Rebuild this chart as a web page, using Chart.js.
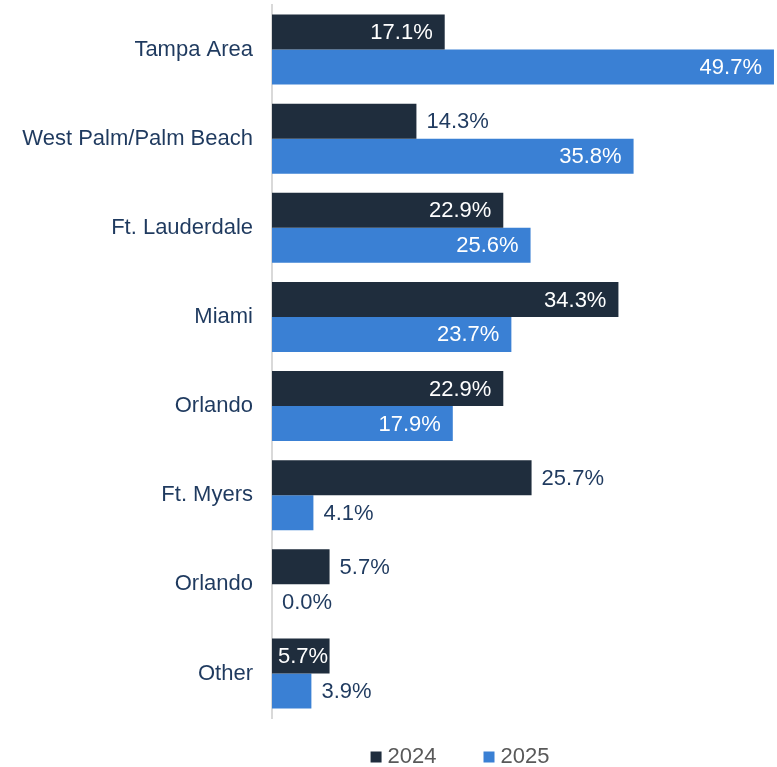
<!DOCTYPE html>
<html>
<head>
<meta charset="utf-8">
<script src="https://cdn.jsdelivr.net/npm/chart.js@4.4.1/dist/chart.umd.min.js"></script>
<style>
  html, body { margin: 0; padding: 0; background: #fff; }
  #wrap { width: 777px; height: 767px; }
</style>
</head>
<body>
<div id="wrap"><canvas id="chart" width="777" height="767"></canvas></div>
<script>
const categories = ['Tampa Area', 'West Palm/Palm Beach', 'Ft. Lauderdale', 'Miami', 'Orlando', 'Ft. Myers', 'Orlando', 'Other'];
const values2024 = [17.1, 14.3, 22.9, 34.3, 22.9, 25.7, 5.7, 5.7];
const values2025 = [49.7, 35.8, 25.6, 23.7, 17.9, 4.1, 0.0, 3.9];
const seriesNames = ['2024', '2025'];

// which value labels sit inside the bar end (white) vs. outside (navy)
const inside2024 = [true, false, true, true, true, false, false, true];
const inside2025 = [true, true, true, true, true, false, false, false];
const insideFlags = [inside2024, inside2025];

const FONT = '"Liberation Sans", Arial, sans-serif';
const navyText = '#1f3a5f';

Chart.defaults.font.family = FONT;

const barLabels = {
  id: 'barLabels',
  afterDatasetsDraw(chart) {
    const ctx = chart.ctx;
    ctx.save();
    ctx.font = '22px ' + FONT;
    ctx.textBaseline = 'middle';
    ctx.textAlign = 'left';
    chart.data.datasets.forEach((ds, di) => {
      const meta = chart.getDatasetMeta(di);
      meta.data.forEach((bar, i) => {
        const text = ds.data[i].toFixed(1) + '%';
        const w = ctx.measureText(text).width;
        let x;
        if (insideFlags[di][i]) {
          ctx.fillStyle = '#ffffff';
          x = Math.max(bar.x - 12 - w, bar.base + 6);
        } else {
          ctx.fillStyle = navyText;
          x = bar.x + 10;
        }
        ctx.fillText(text, x, bar.y + 1);
      });
    });
    ctx.restore();
  }
};

const bottomLegend = {
  id: 'bottomLegend',
  afterDraw(chart) {
    const ctx = chart.ctx;
    ctx.save();
    ctx.font = '22px ' + FONT;
    ctx.textBaseline = 'middle';
    ctx.textAlign = 'left';
    const box = 11, gapText = 6, gapItem = 47;
    const items = chart.data.datasets.map(ds => ({
      label: ds.label, color: ds.backgroundColor, w: ctx.measureText(ds.label).width
    }));
    const total = items.reduce((s, it) => s + box + gapText + it.w, 0) + gapItem * (items.length - 1);
    let x = 460 - total / 2;
    const y = 757;
    items.forEach(it => {
      ctx.fillStyle = it.color;
      ctx.fillRect(x, y - box / 2, box, box);
      x += box + gapText;
      ctx.fillStyle = '#595959';
      ctx.fillText(it.label, x, y);
      x += it.w + gapItem;
    });
    ctx.restore();
  }
};

new Chart(document.getElementById('chart'), {
  type: 'bar',
  data: {
    labels: categories,
    datasets: [
      { label: seriesNames[0], data: values2024, backgroundColor: '#1f2d3d' },
      { label: seriesNames[1], data: values2025, backgroundColor: '#3a80d4' }
    ]
  },
  options: {
    indexAxis: 'y',
    responsive: false,
    animation: false,
    layout: { padding: { top: 5, bottom: 49, left: 0, right: 0 } },
    datasets: {
      bar: { categoryPercentage: 0.785, barPercentage: 1.0, borderWidth: 0 }
    },
    scales: {
      x: { display: false, min: 0, max: 50 },
      y: {
        grid: { display: false, drawTicks: false },
        border: { display: true, color: '#d9d9d9', width: 2 },
        ticks: { color: navyText, font: { size: 22 }, padding: 19 },
        afterFit(scale) {
          scale.width = 272;
          scale.paddingTop = 0;
          scale.paddingBottom = 0;
        }
      }
    },
    plugins: {
      legend: { display: false },
      tooltip: { enabled: false }
    }
  },
  plugins: [barLabels, bottomLegend]
});
</script>
</body>
</html>
